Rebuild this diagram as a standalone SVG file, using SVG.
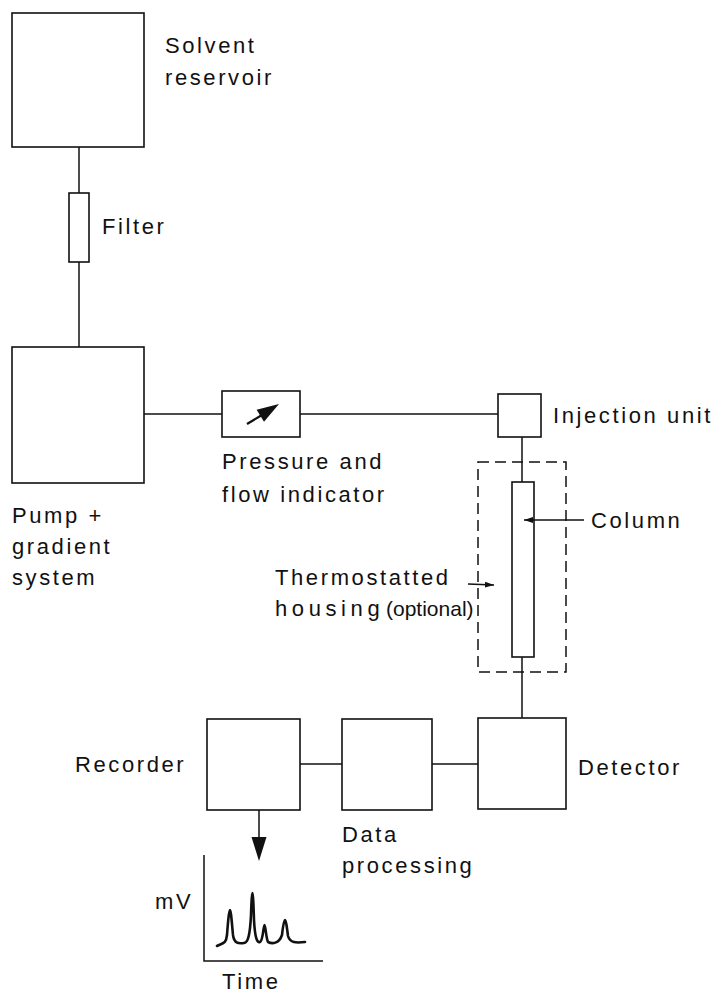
<svg xmlns="http://www.w3.org/2000/svg" width="721" height="996" viewBox="0 0 721 996">
<style>
.box{fill:none;stroke:#111;stroke-width:1.6}
.ln{fill:none;stroke:#111;stroke-width:1.5}
.dash{fill:none;stroke:#111;stroke-width:1.5;stroke-dasharray:11 6}
text{font-family:"Liberation Sans",Arial,sans-serif;font-size:22px;letter-spacing:2.6px;fill:#111}
.wide{letter-spacing:4.6px}
.sm{font-size:21px;letter-spacing:0}
</style>
<defs>
<marker id="ah" markerWidth="10" markerHeight="8" refX="9" refY="4" orient="auto" markerUnits="userSpaceOnUse">
<path d="M0,1 L9,4 L0,7 Z" fill="#111"/>
</marker>
</defs>
<rect width="721" height="996" fill="#fff"/>
<g id="connectors">
<line class="ln" x1="79" y1="147" x2="79" y2="193"/>
<line class="ln" x1="79" y1="262" x2="79" y2="347"/>
<line class="ln" x1="144" y1="414" x2="222" y2="414"/>
<line class="ln" x1="300" y1="414" x2="498" y2="414"/>
<line class="ln" x1="522" y1="437" x2="522" y2="482"/>
<line class="ln" x1="522" y1="657" x2="522" y2="718"/>
<line class="ln" x1="432" y1="764" x2="478" y2="764"/>
<line class="ln" x1="300" y1="764" x2="342" y2="764"/>
<line class="ln" x1="259" y1="810" x2="259" y2="840"/>
<path d="M251.5,837 L266.5,837 L259,861 Z" fill="#111"/>
<line class="ln" x1="584" y1="520" x2="524" y2="520" marker-end="url(#ah)"/>
<line class="ln" x1="468" y1="584" x2="494" y2="585" marker-end="url(#ah)"/>
</g>
<g id="solvent-reservoir">
<rect class="box" x="12" y="13" width="132" height="134"/>
<text x="165" y="53">Solvent</text>
<text x="165" y="85">reservoir</text>
</g>
<g id="filter">
<rect class="box" x="69" y="193" width="20" height="69"/>
<text x="102" y="234">Filter</text>
</g>
<g id="pump">
<rect class="box" x="12" y="347" width="132" height="136"/>
<text x="12" y="523">Pump +</text>
<text x="12" y="554">gradient</text>
<text x="12" y="585">system</text>
</g>
<g id="pressure-indicator">
<rect class="box" x="222" y="391" width="78" height="46"/>
<line x1="247" y1="424" x2="262" y2="415" stroke="#111" stroke-width="2.2"/>
<path d="M279,404 L256.6,409.7 L264,421.7 Z" fill="#111"/>
<text x="222" y="469">Pressure and</text>
<text x="222" y="502">flow indicator</text>
</g>
<g id="injection-unit">
<rect class="box" x="498" y="394" width="43" height="43"/>
<text x="553" y="423">Injection unit</text>
</g>
<g id="thermostatted-housing">
<rect class="dash" x="478" y="462" width="88" height="210"/>
<text x="275" y="585">Thermostatted</text>
<text x="275" y="616"><tspan class="wide">housing</tspan><tspan class="sm" x="386">(optional)</tspan></text>
</g>
<g id="column">
<rect class="box" x="512" y="482" width="22" height="175" fill="#fff"/>
<text x="591" y="528">Column</text>
</g>
<g id="detector">
<rect class="box" x="478" y="718" width="88" height="91"/>
<text x="578" y="775">Detector</text>
</g>
<g id="data-processing">
<rect class="box" x="342" y="719" width="90" height="91"/>
<text x="342" y="842">Data</text>
<text x="342" y="873">processing</text>
</g>
<g id="recorder">
<rect class="box" x="207" y="719" width="93" height="91"/>
<text x="75" y="772">Recorder</text>
</g>
<g id="chromatogram">
<polyline class="ln" points="204,855 204,961 323,961"/>
<path d="M217,946 C223,943 226,944 227,935 C228,922 229,910 230,910 C231,910 232,925 233,935 C234,943 238,944 244,943 C248,943 250,935 251,915 C251.5,900 252,893 252.5,893 C253,893 253.5,905 254,920 C255,938 257,943 260,942 C263,941 263.5,925 264.5,925 C265.5,925 266,938 268,942 C272,944 279,944 282,935 C283,926 284,920 285,920 C286,920 287,928 288,936 C290,943 296,943 305,942" fill="none" stroke="#111" stroke-width="2.6" stroke-linecap="round" stroke-linejoin="round"/>
<text x="155" y="909">mV</text>
<text x="222" y="989">Time</text>
</g>
</svg>
